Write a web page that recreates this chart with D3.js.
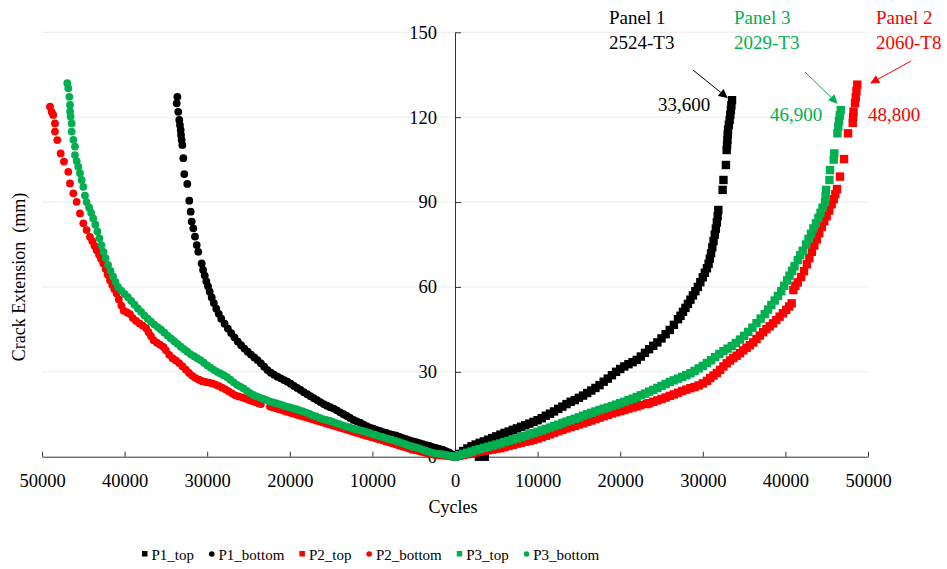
<!DOCTYPE html>
<html>
<head>
<meta charset="utf-8">
<script src="https://cdn.jsdelivr.net/npm/d3@7"></script>
<style>
  body { margin: 0; background: #fff; }
  svg { display: block; font-family: "Liberation Serif", "Times New Roman", serif; }
  .grid line { stroke: #ececec; stroke-width: 1; }
  .axis path, .axis line { stroke: #333; stroke-width: 1; }
  .axis text { font-size: 18.5px; fill: #000; font-family: "Liberation Serif", serif; }
</style>
</head>
<body>
<svg id="chart" width="947" height="569"></svg>
<script>
// cycles, crack extension (mm)
var p1Top = [[0,0],[500,1.0],[1000,2.0],[1500,2.9],[2000,3.7],[2500,4.3],[2900,0],[3000,4.9],[3500,5.4],[3600,0],[4000,6.0],[4500,6.6],[5000,7.2],[5500,7.8],[6000,8.4],[6500,8.9],[7000,9.5],[7500,10.0],[8000,10.6],[8500,11.1],[9000,11.7],[9500,12.3],[10000,12.9],[10500,13.6],[11000,14.5],[11500,15.2],[12000,16.0],[12500,16.9],[13000,17.7],[13500,18.6],[14000,19.4],[14500,20.0],[15000,20.8],[15500,21.6],[16000,22.5],[16500,23.4],[17000,24.3],[17500,25.3],[18000,26.5],[18500,27.6],[19000,28.8],[19500,30.0],[20000,31.0],[20500,31.9],[21000,32.7],[21500,33.4],[22000,34.2],[22500,35.4],[23000,36.7],[23500,38.0],[24000,39.2],[24500,40.4],[25000,41.8],[25500,43.3],[26000,44.8],[26500,46.6],[27000,48.6],[27300,49.8],[27600,51.2],[27900,52.6],[28200,54.0],[28500,55.5],[28800,57.0],[29100,58.5],[29400,60.0],[29700,61.7],[30000,63.4],[30250,65.0],[30500,66.6],[30700,68.2],[30850,70.0],[31000,71.9],[31150,74.0],[31300,76.2],[31450,78.5],[31580,80.6],[31700,82.8],[31800,85.0],[31880,87.2],[32400,94.3],[32500,97.8],[32800,103.1],[32890,108.4],[32940,110.2],[32980,112.0],[33020,113.8],[33060,115.5],[33150,117.3],[33250,119.0],[33330,120.8],[33400,122.5],[33460,124.2],[33540,126.0]];

var p1Bottom = [[0,0],[300,0.8],[700,1.5],[1100,2.0],[1500,2.5],[1900,2.8],[2300,3.1],[2700,3.4],[3100,3.8],[3500,4.1],[3900,4.4],[4300,4.8],[4700,5.1],[5100,5.4],[5500,5.8],[5900,6.2],[6300,6.6],[6700,7.0],[7100,7.4],[7500,7.7],[7900,8.0],[8300,8.4],[8700,8.7],[9100,9.1],[9500,9.5],[9900,9.9],[10300,10.3],[10700,10.8],[11100,11.4],[11500,12.0],[11900,12.5],[12300,13.0],[12700,13.7],[13100,14.4],[13500,15.0],[13900,15.7],[14300,16.4],[14700,17.0],[15100,17.5],[15500,18.0],[15900,18.6],[16300,19.3],[16700,20.0],[17100,20.7],[17500,21.4],[17900,22.1],[18300,22.8],[18700,23.6],[19100,24.3],[19500,25.0],[19900,25.8],[20300,26.5],[20700,27.1],[21100,27.7],[21500,28.3],[21900,29.0],[22300,29.7],[22700,30.6],[23100,31.8],[23500,33.0],[23900,34.1],[24300,35.1],[24700,36.1],[25100,37.1],[25500,38.2],[25900,39.4],[26300,40.7],[26700,42.2],[27100,43.7],[27500,45.3],[27900,47.0],[28300,48.8],[28600,50.5],[28900,52.3],[29200,54.3],[29450,56.3],[29700,58.3],[29900,60.2],[30100,62.0],[30300,64.0],[30500,66.0],[30670,68.3],[31080,72.4],[31270,74.8],[31480,77.8],[31680,80.7],[31880,83.1],[32000,86.6],[32170,90.5],[32410,96.4],[32770,99.9],[32890,105.5],[33010,110.2],[33090,111.9],[33170,113.7],[33210,115.5],[33300,117.2],[33380,119.0],[33500,121.9],[33690,124.9],[33610,127.2]];

var p2Top = [[0,0],[500,0.3],[1000,0.6],[1500,0.9],[2000,1.2],[2500,1.5],[3000,1.8],[3500,2.1],[4000,2.3],[4500,2.5],[5000,2.8],[5500,3.0],[6000,3.4],[6500,3.8],[7000,4.2],[7500,4.6],[8000,4.9],[8500,5.3],[9000,5.6],[9500,5.9],[10000,6.4],[10500,6.9],[11000,7.4],[11500,7.9],[12000,8.5],[12500,9.0],[13000,9.5],[13500,10.0],[14000,10.5],[14500,10.9],[15000,11.4],[15500,11.8],[16000,12.3],[16500,12.8],[17000,13.3],[17500,13.8],[18000,14.3],[18500,14.8],[19000,15.3],[19500,15.7],[20000,16.1],[20500,16.5],[21000,17.0],[21500,17.4],[22000,17.8],[22400,18.2],[23200,18.6],[23500,18.9],[24000,19.4],[24500,19.9],[25000,20.4],[25500,20.9],[26000,21.5],[26500,22.0],[27000,22.6],[27500,23.2],[28000,23.7],[28500,24.2],[29000,24.6],[29500,25.2],[30000,25.9],[30500,26.8],[30900,27.8],[31300,28.7],[31700,29.6],[32100,30.7],[32500,31.9],[32900,33.0],[33300,34.0],[33700,34.9],[34100,35.7],[34500,36.6],[34900,37.6],[35300,38.5],[35700,39.4],[36100,40.4],[36500,41.6],[36900,42.8],[37300,44.0],[37700,45.1],[38100,46.1],[38500,47.1],[38900,48.3],[39300,49.5],[39700,50.7],[40100,51.9],[40450,53.1],[40760,54.2],[40960,58.9],[41200,60.4],[41500,61.6],[41900,63.5],[42250,65.6],[42600,68.0],[42900,70.2],[43200,72.4],[43500,74.6],[43800,76.8],[44100,79.0],[44400,81.2],[44700,83.2],[45000,85.0],[45300,87.0],[45600,89.2],[45850,91.0],[46050,92.8],[46250,94.6],[46610,99.0],[47100,105.2],[47580,114.3],[48150,118.0],[48200,120.0],[48250,122.0],[48430,125.0],[48520,127.0],[48600,129.2],[48700,131.5]];

var p2Bottom = [[0,0],[400,0.1],[800,0.2],[1200,0.3],[1600,0.4],[2000,0.5],[2400,0.6],[2800,0.8],[3200,1.1],[3600,1.4],[4000,1.7],[4400,2.0],[4800,2.3],[5200,2.5],[5600,2.9],[6000,3.3],[6400,3.6],[6800,4.0],[7200,4.4],[7600,4.7],[8000,5.1],[8400,5.4],[8800,5.8],[9200,6.1],[9600,6.5],[10000,6.8],[10400,7.1],[10800,7.5],[11200,7.8],[11600,8.2],[12000,8.5],[12400,8.9],[12800,9.3],[13200,9.6],[13600,10.0],[14000,10.3],[14400,10.7],[14800,11.0],[15200,11.4],[15600,11.7],[16000,12.1],[16400,12.4],[16800,12.8],[17200,13.2],[17600,13.5],[18000,13.9],[18400,14.2],[18800,14.5],[19200,14.9],[19600,15.2],[20000,15.6],[20400,15.9],[20800,16.3],[21200,16.7],[21600,17.0],[22000,17.4],[22400,17.7],[23500,18.6],[23800,18.9],[24200,19.3],[24600,19.7],[25000,20.1],[25400,20.6],[25800,21.0],[26200,21.3],[26600,21.7],[27000,22.4],[27400,23.1],[27800,23.8],[28200,24.4],[28600,25.0],[29000,25.5],[29400,25.9],[29800,26.2],[30200,26.4],[30600,26.7],[31000,27.2],[31400,27.8],[31800,28.6],[32200,29.6],[32600,30.8],[33000,32.0],[33400,33.1],[33800,34.0],[34200,34.8],[34600,36.0],[35000,37.6],[35300,38.8],[35700,39.6],[36100,40.3],[36500,41.2],[36800,42.6],[37100,44.0],[37400,45.4],[37800,46.3],[38200,47.1],[38600,48.0],[39000,49.0],[39350,50.4],[39700,51.0],[40100,51.6],[40400,53.4],[40700,55.6],[40960,57.7],[41250,59.3],[41500,60.8],[41770,62.4],[42050,64.4],[42300,66.3],[42580,68.3],[42850,69.9],[43100,71.4],[43380,73.0],[43650,74.6],[43920,76.2],[44190,77.7],[44600,80.1],[45000,82.5],[45400,86.0],[45810,90.1],[46210,93.1],[46610,96.6],[46820,100.7],[47340,104.3],[47740,107.2],[48150,111.9],[48430,114.9],[48430,117.8],[48640,120.8],[48830,121.9],[49030,123.7]];

var p3Top = [[0,0],[500,0.5],[1000,1.0],[1500,1.4],[2000,1.8],[2500,2.3],[3000,2.7],[3500,3.1],[4000,3.5],[4500,3.9],[5000,4.3],[5500,4.7],[6000,5.2],[6500,5.6],[7000,6.1],[7500,6.5],[8000,7.0],[8500,7.4],[9000,7.9],[9500,8.3],[10000,8.8],[10500,9.3],[11000,9.8],[11500,10.3],[12000,10.8],[12500,11.3],[13000,11.9],[13500,12.4],[14000,12.9],[14500,13.4],[15000,13.9],[15500,14.5],[16000,15.0],[16500,15.5],[17000,16.0],[17500,16.5],[18000,17.0],[18500,17.4],[19000,17.9],[19500,18.4],[20000,18.9],[20500,19.4],[21000,20.0],[21500,20.5],[22000,21.1],[22500,21.7],[23000,22.3],[23500,23.0],[24000,23.6],[24500,24.3],[25000,25.0],[25500,25.7],[26000,26.4],[26500,27.0],[27000,27.6],[27500,28.2],[28000,28.8],[28500,29.5],[29000,30.3],[29500,31.2],[30000,32.1],[30500,33.1],[31000,34.1],[31500,35.2],[32000,36.3],[32500,37.3],[33000,38.2],[33500,39.1],[34000,40.2],[34500,41.4],[35000,42.7],[35500,44.1],[36000,45.6],[36500,47.2],[37000,48.8],[37500,50.4],[37900,52.0],[38300,53.6],[38700,55.2],[39100,56.8],[39500,58.5],[39850,60.4],[40200,62.3],[40500,64.0],[40800,65.7],[41100,67.3],[41500,69.5],[41800,71.2],[42100,72.8],[42500,75.0],[42800,77.0],[43100,78.8],[43400,80.7],[43700,82.5],[44000,84.4],[44250,86.2],[44500,88.0],[44800,90.0],[44870,92.0],[44920,94.3],[45330,97.8],[45400,101.3],[45850,105.0],[45920,107.2],[46300,114.3],[46400,116.5],[46480,118.6],[46580,120.6],[46700,122.5]];

var p3Bottom = [[0,0],[400,0.3],[800,0.5],[1200,0.7],[1600,0.9],[2000,1.0],[2400,1.2],[2800,1.4],[3200,1.8],[3600,2.2],[4000,2.6],[4400,3.0],[4800,3.3],[5200,3.6],[5600,4.0],[6000,4.4],[6400,4.8],[6800,5.2],[7200,5.6],[7600,5.9],[8000,6.3],[8400,6.6],[8800,7.0],[9200,7.3],[9600,7.7],[10000,8.0],[10400,8.4],[10800,8.8],[11200,9.1],[11600,9.4],[12000,9.7],[12400,10.0],[12800,10.4],[13200,10.7],[13600,11.1],[14000,11.5],[14400,11.9],[14800,12.3],[15200,12.7],[15600,13.0],[16000,13.3],[16400,13.7],[16800,14.2],[17200,14.6],[17600,15.1],[18000,15.6],[18400,16.0],[18800,16.4],[19200,16.8],[19600,17.1],[20000,17.4],[20400,17.7],[20800,18.1],[21200,18.5],[21600,18.8],[22000,19.2],[22400,19.5],[22800,20.0],[23200,20.4],[23600,20.8],[24000,21.3],[24400,21.8],[24800,22.5],[25200,23.3],[25600,24.1],[26000,24.8],[26400,25.4],[26800,26.3],[27200,27.2],[27600,28.1],[28000,28.8],[28400,29.4],[28800,30.0],[29200,30.7],[29600,31.5],[30000,32.3],[30400,33.2],[30800,34.1],[31200,34.8],[31600,35.5],[32000,36.2],[32400,37.1],[32800,38.0],[33200,38.9],[33600,39.9],[34000,40.8],[34400,41.8],[34800,42.8],[35200,43.9],[35600,44.9],[36000,45.8],[36400,46.7],[36800,47.7],[37200,48.8],[37600,49.9],[38000,51.2],[38400,52.4],[38800,53.7],[39200,55.1],[39600,56.4],[40000,57.5],[40400,58.7],[40800,60.0],[41100,61.8],[41400,63.7],[41700,65.7],[42000,67.8],[42300,70.2],[42550,72.4],[42800,74.8],[43050,77.2],[43300,79.6],[43550,82.0],[43800,84.2],[44050,86.2],[44300,88.1],[44600,90.0],[44800,92.3],[45000,95.4],[45200,97.8],[45400,100.2],[45610,102.5],[45800,104.5],[46010,106.6],[46010,109.6],[46200,112.0],[46410,114.9],[46410,117.8],[46540,120.2],[46600,122.0],[46610,124.3],[46690,127.2],[46820,130.2],[46940,132.0]];

var xTicksLeft = [50000, 40000, 30000, 20000, 10000, 0];
var xTicksRight = [10000, 20000, 30000, 40000, 50000];
var yTicks = [0, 30, 60, 90, 120, 150];
var seriesNames = ["P1_top", "P1_bottom", "P2_top", "P2_bottom", "P3_top", "P3_bottom"];
var seriesColors = ["#000000", "#000000", "#ff0000", "#ff0000", "#00b050", "#00b050"];
var seriesData = [p1Top, p1Bottom, p2Top, p2Bottom, p3Top, p3Bottom];

var svg = d3.select("#chart");
var x0 = 455, xL = 42, xR = 868, yTop = 32.3, yBot = 456.7;

var xLeft = d3.scaleLinear().domain([0, 50000]).range([x0, xL]);
var xRight = d3.scaleLinear().domain([0, 50000]).range([x0, xR]);
var y = d3.scaleLinear().domain([0, 150]).range([yBot, yTop]);

// gridlines
svg.append("g").attr("class", "grid").selectAll("line").data(yTicks.filter(function(d) { return d > 0; }))
    .enter().append("line")
    .attr("x1", xL).attr("x2", xR)
    .attr("y1", function(d) { return y(d); }).attr("y2", function(d) { return y(d); });

// axes
var fmt = function(d) { return String(d); };
svg.append("g").attr("class", "axis").attr("transform", "translate(0," + yBot + ")")
    .call(d3.axisBottom(xLeft).tickValues(xTicksLeft).tickFormat(fmt).tickSizeInner(-5).tickSizeOuter(0).tickPadding(17));
svg.append("g").attr("class", "axis").attr("transform", "translate(0," + yBot + ")")
    .call(d3.axisBottom(xRight).tickValues(xTicksRight).tickFormat(fmt).tickSizeInner(-5).tickSizeOuter(0).tickPadding(17));
svg.append("g").attr("class", "axis").attr("transform", "translate(" + x0 + ",0)")
    .call(d3.axisLeft(y).tickValues(yTicks).tickFormat(fmt).tickSizeInner(-6).tickSizeOuter(0).tickPadding(18));

// titles
svg.append("text").attr("x", 453).attr("y", 513).attr("text-anchor", "middle")
    .style("font-size", "18px").text("Cycles");
svg.append("text").attr("transform", "translate(25,277) rotate(-90)").attr("text-anchor", "middle")
    .style("font-size", "18px").style("white-space", "pre").text("Crack Extension  (mm)");

// series: "top" to the right of zero, "bottom" mirrored to the left
var plot = svg.append("g");
seriesData.forEach(function(data, i) {
    var color = seriesColors[i];
    var g = plot.append("g");
    if (i % 2 === 0) {
        g.selectAll("rect").data(data).enter().append("rect")
            .attr("x", function(d) { return xRight(d[0]) - 4.2; })
            .attr("y", function(d) { return y(d[1]) - 4.2; })
            .attr("width", 8.4).attr("height", 8.4)
            .attr("fill", color);
    } else {
        g.selectAll("circle").data(data).enter().append("circle")
            .attr("cx", function(d) { return xLeft(d[0]); })
            .attr("cy", function(d) { return y(d[1]); })
            .attr("r", 3.9)
            .attr("fill", color);
    }
});

// annotations
var defs = svg.append("defs");
function arrowHead(id, color) {
    defs.append("marker").attr("id", id).attr("viewBox", "0 0 10 10")
        .attr("refX", 9).attr("refY", 5).attr("markerWidth", 10).attr("markerHeight", 9)
        .attr("markerUnits", "userSpaceOnUse").attr("orient", "auto")
        .append("path").attr("d", "M0,0L10,5L0,10z").attr("fill", color);
}
arrowHead("ah-black", "#000");
arrowHead("ah-green", "#00b050");
arrowHead("ah-red", "#ff0000");

var notes = [
    { lines: ["Panel 1", "2524-T3"], x: 609, color: "#000", value: "33,600", vx: 658, vy: 111, ax: [693, 70, 727, 97.5], marker: "ah-black" },
    { lines: ["Panel 3", "2029-T3"], x: 734, color: "#00b050", value: "46,900", vx: 770, vy: 121, ax: [805, 72, 837, 103], marker: "ah-green" },
    { lines: ["Panel 2", "2060-T8"], x: 876, color: "#ff0000", value: "48,800", vx: 868, vy: 121, ax: [911, 61, 871, 83], marker: "ah-red" }
];
notes.forEach(function(n) {
    svg.append("text").attr("x", n.x).attr("y", 24).attr("fill", n.color).style("font-size", "19px").text(n.lines[0]);
    svg.append("text").attr("x", n.x).attr("y", 48.5).attr("fill", n.color).style("font-size", "19px").text(n.lines[1]);
    svg.append("text").attr("x", n.vx).attr("y", n.vy).attr("fill", n.color).style("font-size", "19px").text(n.value);
    svg.append("line").attr("x1", n.ax[0]).attr("y1", n.ax[1]).attr("x2", n.ax[2]).attr("y2", n.ax[3])
        .attr("stroke", n.color).attr("stroke-width", 1).attr("marker-end", "url(#" + n.marker + ")");
});

// legend
var legend = svg.append("g").attr("transform", "translate(0,554)");
var lx = 142;
seriesNames.forEach(function(name, i) {
    var color = seriesColors[i];
    if (i % 2 === 0) {
        legend.append("rect").attr("x", lx).attr("y", -3).attr("width", 5.5).attr("height", 5.5).attr("fill", color);
    } else {
        legend.append("circle").attr("cx", lx + 2.75).attr("cy", 0).attr("r", 2.8).attr("fill", color);
    }
    var t = legend.append("text").attr("x", lx + 9.5).attr("y", 5.5).style("font-size", "15px").text(name);
    lx += 9.5 + t.node().getComputedTextLength() + 15;
});
</script>
</body>
</html>
